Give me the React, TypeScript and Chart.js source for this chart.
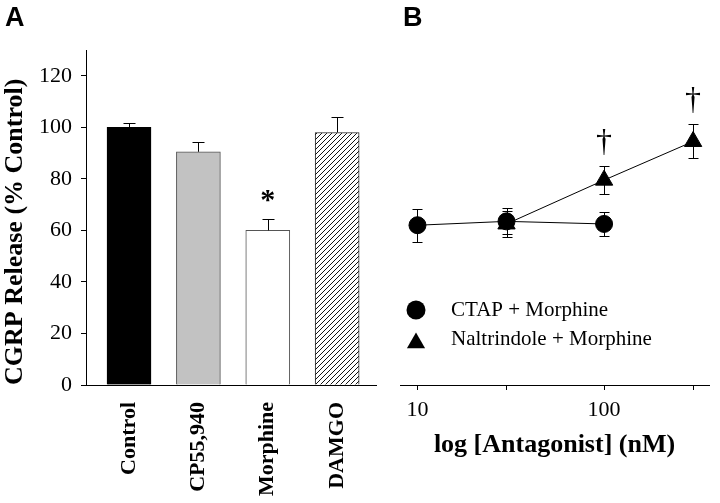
import React, { useEffect, useRef } from 'react';
import { Chart, registerables } from 'chart.js';

Chart.register(...registerables);

// ---------- Panel A data ----------
const categories = ['Control', 'CP55,940', 'Morphine', 'DAMGO'];
const releaseValues = [100, 90.5, 60, 98];
const releaseErrors = [1.6, 3.8, 4.5, 6];
const yTicksA = [0, 20, 40, 60, 80, 100, 120];
const significantA = [2]; // index of bars marked with *

// ---------- Panel B data ----------
const antagonistTicks = [10, 30, 100, 300];
const labelledTicksB = [10, 100];
const ctapConc = [10, 30, 100];
const ctapValues = [62, 63.5, 62.5];
const ctapErrors = [6.4, 5, 4.7];
const naltConc = [30, 100, 300];
const naltValues = [62.5, 79.5, 94.5];
const naltErrors = [5, 5.4, 6.6];
const daggerConc = [100, 300]; // naltrindole points marked with †

const SERIF = '"Liberation Serif", "Times New Roman", serif';
const SANS = '"Liberation Sans", Arial, sans-serif';

function makeHatch(): CanvasPattern | string {
  const c = document.createElement('canvas');
  c.width = 5;
  c.height = 5;
  const g = c.getContext('2d');
  if (!g) return '#fff';
  g.fillStyle = '#fff';
  g.fillRect(0, 0, 5, 5);
  g.strokeStyle = '#111';
  g.lineWidth = 1;
  g.beginPath();
  g.moveTo(-1, 6);
  g.lineTo(6, -1);
  g.stroke();
  const p = g.createPattern(c, 'repeat');
  return p || '#fff';
}

export default function App() {
  const refA = useRef<HTMLCanvasElement>(null);
  const refB = useRef<HTMLCanvasElement>(null);

  useEffect(() => {
    if (!refA.current || !refB.current) return;

    const errorBarsA = {
      id: 'errorBarsA',
      afterDatasetsDraw(chart: any) {
        const { ctx } = chart;
        const xs = chart.scales.x;
        const ys = chart.scales.y;
        ctx.save();
        ctx.strokeStyle = '#000';
        ctx.lineWidth = 1;
        releaseValues.forEach((v, i) => {
          const x = Math.round(xs.getPixelForValue(i)) + 0.5;
          const y0 = ys.getPixelForValue(v);
          const y1 = Math.round(ys.getPixelForValue(v + releaseErrors[i])) + 0.5;
          ctx.beginPath();
          ctx.moveTo(x, y0);
          ctx.lineTo(x, y1);
          ctx.moveTo(x - 6, y1);
          ctx.lineTo(x + 6, y1);
          ctx.stroke();
        });
        ctx.fillStyle = '#000';
        ctx.font = `bold 30px ${SERIF}`;
        ctx.textAlign = 'center';
        ctx.textBaseline = 'alphabetic';
        significantA.forEach((i) => {
          const x = xs.getPixelForValue(i);
          const y = ys.getPixelForValue(releaseValues[i] + releaseErrors[i]);
          ctx.fillText('*', x, y - 10);
        });
        ctx.font = `bold 27px ${SANS}`;
        ctx.textAlign = 'left';
        ctx.fillText('A', 5, 26);
        ctx.restore();
      },
    };

    const chartA = new Chart(refA.current, {
      type: 'bar',
      data: {
        datasets: [
          {
            data: releaseValues.map((v, i) => ({ x: i, y: v })),
            backgroundColor: ['#000000', '#c2c2c2', '#ffffff', makeHatch() as any],
            borderColor: ['#000000', '#555555', '#555555', '#222222'],
            borderWidth: 1,
            barThickness: 44,
          } as any,
        ],
      },
      options: {
        responsive: false,
        animation: false,
        layout: { padding: { top: 50, right: 720 - 376, left: 0, bottom: 0 } },
        plugins: { legend: { display: false }, tooltip: { enabled: false } },
        scales: {
          x: {
            type: 'linear',
            offset: false,
            bounds: 'data',
            min: -0.62,
            max: 3.56,
            afterBuildTicks: (s: any) => {
              s.ticks = categories.map((_, i) => ({ value: i }));
            },
            afterFit: (s: any) => {
              s.height = 118;
            },
            ticks: {
              callback: (v: any) => categories[v] ?? '',
              minRotation: 90,
              maxRotation: 90,
              autoSkip: false,
              padding: 17,
              color: '#000',
              font: { family: SERIF, size: 22, weight: 'bold' },
            },
            grid: { display: false, drawTicks: false, offset: false },
            border: { color: '#000', width: 1 },
          },
          y: {
            min: 0,
            max: 130,
            afterBuildTicks: (s: any) => {
              s.ticks = yTicksA.map((v) => ({ value: v }));
            },
            afterFit: (s: any) => {
              s.width = 86;
            },
            ticks: {
              padding: 9,
              color: '#000',
              font: { family: SERIF, size: 22 },
            },
            grid: { drawOnChartArea: false, tickLength: 5, color: '#000' },
            border: { color: '#000', width: 1 },
            title: {
              display: true,
              text: 'CGRP Release (% Control)',
              align: 'start',
              color: '#000',
              padding: 0,
              font: { family: SERIF, size: 26, weight: 'bold' },
            },
          },
        },
      } as any,
      plugins: [errorBarsA],
    });

    const errorBarsB = {
      id: 'errorBarsB',
      beforeDatasetsDraw(chart: any) {
        const { ctx } = chart;
        const xs = chart.scales.x;
        const ys = chart.scales.y;
        ctx.save();
        ctx.strokeStyle = '#000';
        ctx.lineWidth = 1;
        const draw = (xv: number, v: number, e: number) => {
          const x = Math.round(xs.getPixelForValue(xv)) + 0.5;
          const yT = Math.round(ys.getPixelForValue(v + e)) + 0.5;
          const yB = Math.round(ys.getPixelForValue(v - e)) + 0.5;
          ctx.beginPath();
          ctx.moveTo(x, yT);
          ctx.lineTo(x, yB);
          ctx.moveTo(x - 5, yT);
          ctx.lineTo(x + 5, yT);
          ctx.moveTo(x - 5, yB);
          ctx.lineTo(x + 5, yB);
          ctx.stroke();
        };
        ctapConc.forEach((c, i) => draw(c, ctapValues[i], ctapErrors[i]));
        naltConc.forEach((c, i) => draw(c, naltValues[i], naltErrors[i]));
        ctx.restore();
      },
      afterDraw(chart: any) {
        const { ctx } = chart;
        const xs = chart.scales.x;
        const ys = chart.scales.y;
        ctx.save();
        ctx.fillStyle = '#000';
        // daggers
        ctx.font = `32px ${SERIF}`;
        ctx.textAlign = 'center';
        ctx.textBaseline = 'alphabetic';
        daggerConc.forEach((c) => {
          const i = naltConc.indexOf(c);
          const x = xs.getPixelForValue(c);
          const y = ys.getPixelForValue(naltValues[i] + naltErrors[i]);
          ctx.fillText('\u2020', x, y - 15);
        });
        // legend
        chart.data.datasets.forEach((ds: any, i: number) => {
          const cx = 416;
          const cy = 310 + i * 29;
          ctx.beginPath();
          if (ds.pointStyle === 'triangle') {
            const r = 10.5;
            const ty = cy + 4;
            ctx.moveTo(cx, ty - r);
            ctx.lineTo(cx + r * Math.sin((2 * Math.PI) / 3), ty + r / 2);
            ctx.lineTo(cx - r * Math.sin((2 * Math.PI) / 3), ty + r / 2);
            ctx.closePath();
          } else {
            ctx.arc(cx, cy, 9.5, 0, Math.PI * 2);
          }
          ctx.fill();
          ctx.font = `21px ${SERIF}`;
          ctx.textAlign = 'left';
          ctx.textBaseline = 'middle';
          ctx.fillText(ds.label, 451, cy);
        });
        ctx.font = `bold 27px ${SANS}`;
        ctx.textAlign = 'left';
        ctx.textBaseline = 'alphabetic';
        ctx.fillText('B', 403, 26);
        ctx.restore();
      },
    };

    const chartB = new Chart(refB.current, {
      type: 'line',
      data: {
        datasets: [
          {
            label: 'CTAP + Morphine',
            data: ctapConc.map((c, i) => ({ x: c, y: ctapValues[i] })),
            pointStyle: 'circle',
            pointRadius: 8.5,
            pointBorderWidth: 1,
            borderColor: '#000',
            backgroundColor: '#000',
            pointBackgroundColor: '#000',
            pointBorderColor: '#000',
            borderWidth: 1,
            tension: 0,
          },
          {
            label: 'Naltrindole + Morphine',
            data: naltConc.map((c, i) => ({ x: c, y: naltValues[i] })),
            pointStyle: 'triangle',
            pointRadius: 10,
            pointBorderWidth: 1,
            borderColor: '#000',
            backgroundColor: '#000',
            pointBackgroundColor: '#000',
            pointBorderColor: '#000',
            borderWidth: 1,
            tension: 0,
          },
        ],
      },
      options: {
        responsive: false,
        animation: false,
        layout: { padding: { top: 50, right: 2, left: 400, bottom: 0 } },
        plugins: { legend: { display: false }, tooltip: { enabled: false } },
        scales: {
          x: {
            type: 'logarithmic',
            min: 8.06,
            max: 365,
            afterBuildTicks: (s: any) => {
              s.ticks = antagonistTicks.map((v) => ({ value: v }));
            },
            afterFit: (s: any) => {
              s.height = 118;
            },
            ticks: {
              callback: (v: any) => (labelledTicksB.includes(v) ? String(v) : ''),
              autoSkip: false,
              minRotation: 0,
              maxRotation: 0,
              padding: 7,
              color: '#000',
              font: { family: SERIF, size: 22 },
            },
            grid: { drawOnChartArea: false, tickLength: 5, color: '#000' },
            border: { color: '#000', width: 1 },
            title: {
              display: true,
              text: 'log [Antagonist] (nM)',
              color: '#000',
              padding: { top: 0, bottom: 42 },
              font: { family: SERIF, size: 26, weight: 'bold' },
            },
          },
          y: { display: false, min: 0, max: 130 },
        },
      } as any,
      plugins: [errorBarsB],
    });

    return () => {
      chartA.destroy();
      chartB.destroy();
    };
  }, []);

  return (
    <div style={{ position: 'fixed', left: 0, top: 0, width: 720, height: 503, background: '#fff' }}>
      <canvas ref={refA} width={720} height={503} style={{ position: 'absolute', left: 0, top: 0 }} />
      <canvas ref={refB} width={720} height={503} style={{ position: 'absolute', left: 0, top: 0 }} />
    </div>
  );
}
